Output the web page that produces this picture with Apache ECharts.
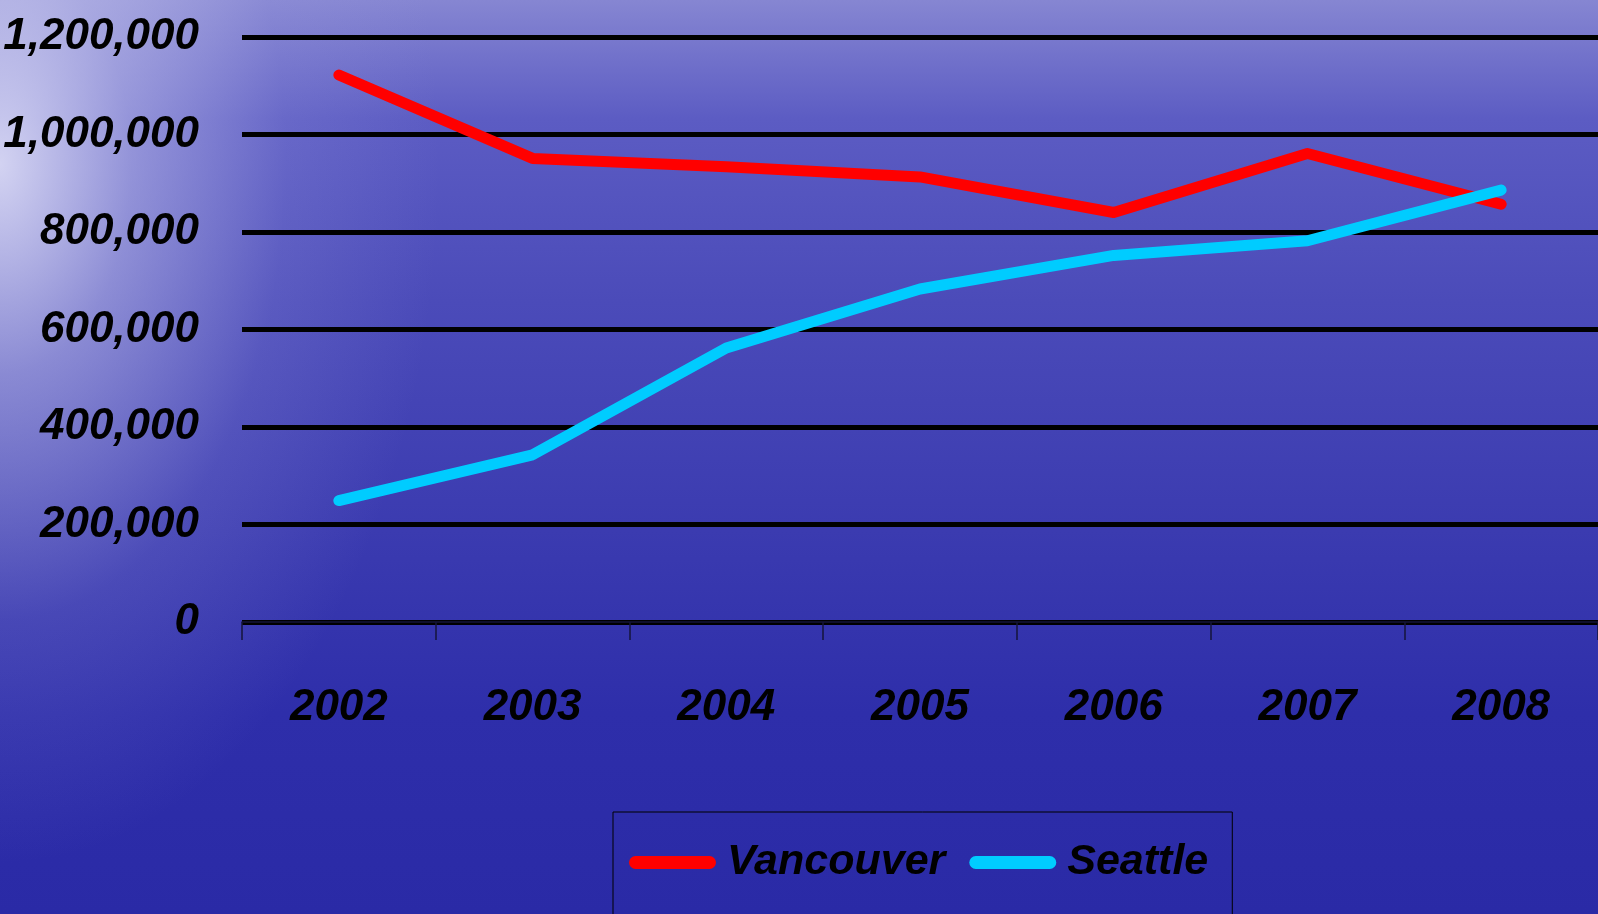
<!DOCTYPE html>
<html>
<head>
<meta charset="utf-8">
<script src="https://cdn.jsdelivr.net/npm/echarts@6/dist/echarts.min.js"></script>
<style>
  html, body { margin: 0; padding: 0; width: 1598px; height: 914px; overflow: hidden; }
  body {
    background:
      radial-gradient(ellipse 440px 700px at 0% 18%, rgba(232,232,250,0.85) 0%, rgba(205,205,240,0.5) 30%, rgba(160,160,225,0.18) 65%, rgba(0,0,0,0) 100%),
      linear-gradient(to bottom, #8686d2 0%, #5c5cc3 13%, #4b4bb9 33%, #3b3bb0 58%, #2e2eaa 78%, #2a2aa6 100%);
  }
  #chart { width: 1598px; height: 914px; }
</style>
</head>
<body>
<div id="chart"></div>
<script>
const years = ['2002', '2003', '2004', '2005', '2006', '2007', '2008'];
const vancouver = [1122000, 951000, 934000, 913000, 840000, 961000, 857000];
const seattle = [249000, 343000, 562000, 683000, 752000, 782000, 886000];
const yTicks = [0, 200000, 400000, 600000, 800000, 1000000, 1200000];

const FONT = "'Liberation Sans', Arial, sans-serif";
const chart = echarts.init(document.getElementById('chart'), null, { renderer: 'canvas' });
chart.setOption({
  backgroundColor: 'transparent',
  animation: false,
  grid: { left: 242, right: 0, top: 37, bottom: 292, containLabel: false, outerBoundsMode: 'none' },
  xAxis: {
    type: 'category',
    data: years,
    boundaryGap: true,
    axisLine: { show: true, lineStyle: { color: '#15153a', width: 1.5 } },
    axisTick: { show: true, length: 18, lineStyle: { color: '#15153a', width: 1.5 } },
    axisLabel: {
      margin: 64,
      color: '#000',
      fontFamily: FONT,
      fontSize: 44,
      fontWeight: 'bold',
      fontStyle: 'italic'
    },
    splitLine: { show: false }
  },
  yAxis: {
    type: 'value',
    min: yTicks[0],
    max: yTicks[yTicks.length - 1],
    interval: yTicks[1] - yTicks[0],
    axisLine: { show: false },
    axisTick: { show: false },
    axisLabel: {
      margin: 43,
      color: '#000',
      fontFamily: FONT,
      fontSize: 44,
      fontWeight: 'bold',
      fontStyle: 'italic',
      formatter: v => v.toLocaleString('en-US')
    },
    splitLine: { show: true, lineStyle: { color: '#000', width: 5 } }
  },
  legend: {
    left: 613,
    top: 812,
    orient: 'horizontal',
    icon: 'path://M6.5,0 H80.5 A6.5,6.5 0 0 1 80.5,13 H6.5 A6.5,6.5 0 0 1 6.5,0 Z',
    itemWidth: 87,
    itemHeight: 13,
    itemGap: 24,
    padding: [29, 24, 80, 16],
    borderColor: '#000',
    borderWidth: 1,
    backgroundColor: 'transparent',
    textStyle: {
      color: '#000',
      fontFamily: FONT,
      fontSize: 43,
      fontWeight: 'bold',
      fontStyle: 'italic',
      padding: [0, 0, 0, 6]
    },
    data: ['Vancouver', 'Seattle']
  },
  series: [
    {
      name: 'Vancouver',
      type: 'line',
      data: vancouver,
      symbol: 'none',
      color: '#ff0000',
      lineStyle: { color: '#ff0000', width: 11, cap: 'round', join: 'round' },
      z: 3
    },
    {
      name: 'Seattle',
      type: 'line',
      data: seattle,
      symbol: 'none',
      color: '#00ccff',
      lineStyle: { color: '#00ccff', width: 11, cap: 'round', join: 'round' },
      z: 4
    }
  ]
});
</script>
</body>
</html>
